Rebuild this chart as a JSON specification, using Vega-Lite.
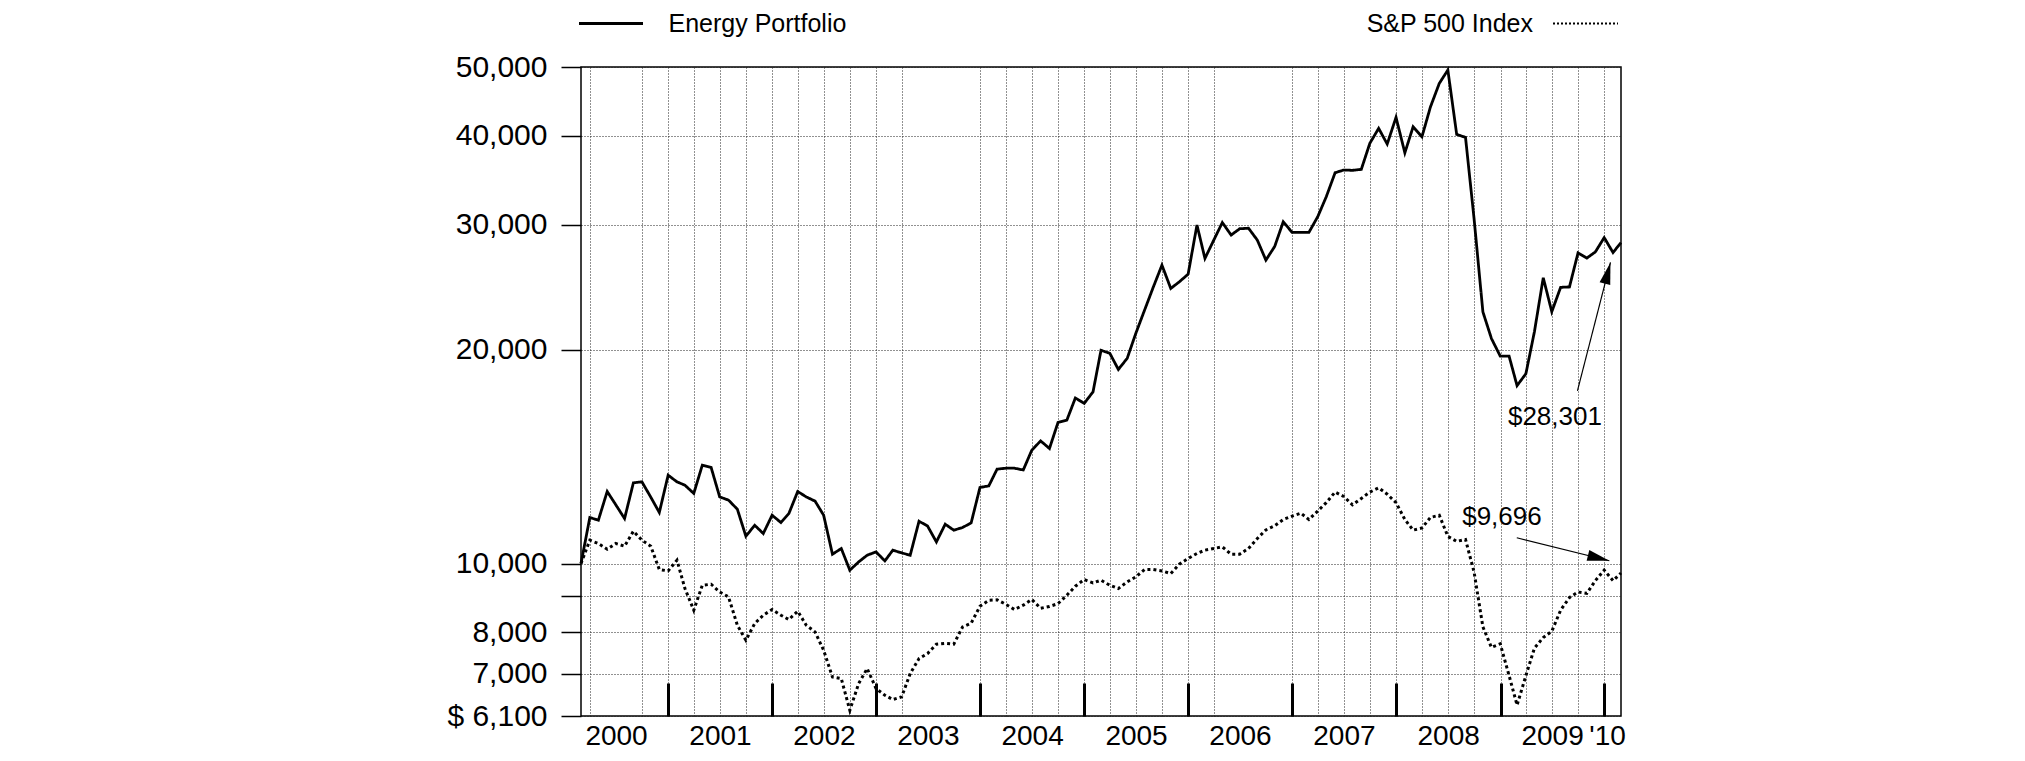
{
  "$schema": "https://vega.github.io/schema/vega-lite/v6.json",
  "autosize": "none",
  "width": 1040,
  "height": 649,
  "padding": {"left": 581, "top": 67, "right": 404, "bottom": 45},
  "background": "white",
  "config": {
    "view": {"stroke": "black", "strokeWidth": 1.5},
    "font": "Liberation Sans",
    "text": {"font": "Liberation Sans"}
  },
  "datasets": {
    "prices": [
      {"date": "2000-02-29", "energy": 10000, "sp500": 10000},
      {"date": "2000-03-31", "energy": 11608, "sp500": 10785},
      {"date": "2000-04-30", "energy": 11507, "sp500": 10670},
      {"date": "2000-05-31", "energy": 12630, "sp500": 10475},
      {"date": "2000-06-30", "energy": 12100, "sp500": 10670},
      {"date": "2000-07-31", "energy": 11570, "sp500": 10577},
      {"date": "2000-08-31", "energy": 12990, "sp500": 11104},
      {"date": "2000-09-30", "energy": 13030, "sp500": 10785},
      {"date": "2000-10-31", "energy": 12400, "sp500": 10577},
      {"date": "2000-11-30", "energy": 11800, "sp500": 9807},
      {"date": "2000-12-31", "energy": 13315, "sp500": 9763},
      {"date": "2001-01-31", "energy": 13030, "sp500": 10108},
      {"date": "2001-02-28", "energy": 12890, "sp500": 9221},
      {"date": "2001-03-31", "energy": 12550, "sp500": 8595},
      {"date": "2001-04-30", "energy": 13755, "sp500": 9320},
      {"date": "2001-05-31", "energy": 13650, "sp500": 9350},
      {"date": "2001-06-30", "energy": 12410, "sp500": 9120},
      {"date": "2001-07-31", "energy": 12280, "sp500": 8974},
      {"date": "2001-08-31", "energy": 11925, "sp500": 8187},
      {"date": "2001-09-30", "energy": 10925, "sp500": 7798},
      {"date": "2001-10-31", "energy": 11320, "sp500": 8232},
      {"date": "2001-11-30", "energy": 11020, "sp500": 8457},
      {"date": "2001-12-31", "energy": 11695, "sp500": 8614},
      {"date": "2002-01-31", "energy": 11420, "sp500": 8457},
      {"date": "2002-02-28", "energy": 11760, "sp500": 8340},
      {"date": "2002-03-31", "energy": 12630, "sp500": 8567},
      {"date": "2002-04-30", "energy": 12410, "sp500": 8187},
      {"date": "2002-05-31", "energy": 12240, "sp500": 8011},
      {"date": "2002-06-30", "energy": 11695, "sp500": 7549},
      {"date": "2002-07-31", "energy": 10306, "sp500": 6923},
      {"date": "2002-08-31", "energy": 10498, "sp500": 6887},
      {"date": "2002-09-30", "energy": 9785, "sp500": 6214},
      {"date": "2002-10-31", "energy": 10052, "sp500": 6777},
      {"date": "2002-11-30", "energy": 10273, "sp500": 7114},
      {"date": "2002-12-31", "energy": 10383, "sp500": 6668},
      {"date": "2003-01-31", "energy": 10084, "sp500": 6525},
      {"date": "2003-02-28", "energy": 10441, "sp500": 6434},
      {"date": "2003-03-31", "energy": 10350, "sp500": 6490},
      {"date": "2003-04-30", "energy": 10273, "sp500": 7000},
      {"date": "2003-05-31", "energy": 11470, "sp500": 7349},
      {"date": "2003-06-30", "energy": 11290, "sp500": 7469},
      {"date": "2003-07-31", "energy": 10726, "sp500": 7700},
      {"date": "2003-08-31", "energy": 11359, "sp500": 7720},
      {"date": "2003-09-30", "energy": 11140, "sp500": 7700},
      {"date": "2003-10-31", "energy": 11238, "sp500": 8141},
      {"date": "2003-11-30", "energy": 11407, "sp500": 8240},
      {"date": "2003-12-31", "energy": 12795, "sp500": 8707},
      {"date": "2004-01-31", "energy": 12860, "sp500": 8877},
      {"date": "2004-02-29", "energy": 13577, "sp500": 8890},
      {"date": "2004-03-31", "energy": 13620, "sp500": 8760},
      {"date": "2004-04-30", "energy": 13620, "sp500": 8614},
      {"date": "2004-05-31", "energy": 13540, "sp500": 8737},
      {"date": "2004-06-30", "energy": 14440, "sp500": 8898},
      {"date": "2004-07-31", "energy": 14880, "sp500": 8650},
      {"date": "2004-08-31", "energy": 14519, "sp500": 8700},
      {"date": "2004-09-30", "energy": 15796, "sp500": 8780},
      {"date": "2004-10-31", "energy": 15913, "sp500": 9022},
      {"date": "2004-11-30", "energy": 17102, "sp500": 9290},
      {"date": "2004-12-31", "energy": 16804, "sp500": 9494},
      {"date": "2005-01-31", "energy": 17444, "sp500": 9390},
      {"date": "2005-02-28", "energy": 19960, "sp500": 9473},
      {"date": "2005-03-31", "energy": 19764, "sp500": 9320},
      {"date": "2005-04-30", "energy": 18758, "sp500": 9221},
      {"date": "2005-05-31", "energy": 19448, "sp500": 9420},
      {"date": "2005-06-30", "energy": 21073, "sp500": 9575},
      {"date": "2005-07-31", "energy": 22736, "sp500": 9807},
      {"date": "2005-08-31", "energy": 24518, "sp500": 9807},
      {"date": "2005-09-30", "energy": 26307, "sp500": 9763},
      {"date": "2005-10-31", "energy": 24391, "sp500": 9681},
      {"date": "2005-11-30", "energy": 24919, "sp500": 9977},
      {"date": "2005-12-31", "energy": 25549, "sp500": 10163},
      {"date": "2006-01-31", "energy": 29960, "sp500": 10330},
      {"date": "2006-02-28", "energy": 26884, "sp500": 10441},
      {"date": "2006-03-31", "energy": 28526, "sp500": 10500},
      {"date": "2006-04-30", "energy": 30200, "sp500": 10553},
      {"date": "2006-05-31", "energy": 29000, "sp500": 10306},
      {"date": "2006-06-30", "energy": 29600, "sp500": 10306},
      {"date": "2006-07-31", "energy": 29650, "sp500": 10500},
      {"date": "2006-08-31", "energy": 28526, "sp500": 10845},
      {"date": "2006-09-30", "energy": 26736, "sp500": 11150},
      {"date": "2006-10-31", "energy": 27950, "sp500": 11300},
      {"date": "2006-11-30", "energy": 30280, "sp500": 11533},
      {"date": "2006-12-31", "energy": 29250, "sp500": 11660},
      {"date": "2007-01-31", "energy": 29250, "sp500": 11771},
      {"date": "2007-02-28", "energy": 29250, "sp500": 11533},
      {"date": "2007-03-31", "energy": 30770, "sp500": 11852},
      {"date": "2007-04-30", "energy": 32830, "sp500": 12180},
      {"date": "2007-05-31", "energy": 35490, "sp500": 12605},
      {"date": "2007-06-30", "energy": 35800, "sp500": 12431},
      {"date": "2007-07-31", "energy": 35770, "sp500": 12097},
      {"date": "2007-08-31", "energy": 35880, "sp500": 12347},
      {"date": "2007-09-30", "energy": 39040, "sp500": 12605},
      {"date": "2007-10-31", "energy": 40980, "sp500": 12778},
      {"date": "2007-11-30", "energy": 38950, "sp500": 12520},
      {"date": "2007-12-31", "energy": 42470, "sp500": 12180},
      {"date": "2008-01-31", "energy": 37860, "sp500": 11533},
      {"date": "2008-02-29", "energy": 41190, "sp500": 11144},
      {"date": "2008-03-31", "energy": 39880, "sp500": 11220},
      {"date": "2008-04-30", "energy": 43950, "sp500": 11613},
      {"date": "2008-05-31", "energy": 47420, "sp500": 11692},
      {"date": "2008-06-30", "energy": 49510, "sp500": 10918},
      {"date": "2008-07-31", "energy": 40190, "sp500": 10743},
      {"date": "2008-08-31", "energy": 39800, "sp500": 10810},
      {"date": "2008-09-30", "energy": 30600, "sp500": 9730},
      {"date": "2008-10-31", "energy": 22610, "sp500": 8143},
      {"date": "2008-11-30", "energy": 20740, "sp500": 7620},
      {"date": "2008-12-31", "energy": 19585, "sp500": 7707},
      {"date": "2009-01-31", "energy": 19585, "sp500": 6954},
      {"date": "2009-02-28", "energy": 17800, "sp500": 6320},
      {"date": "2009-03-31", "energy": 18500, "sp500": 6954},
      {"date": "2009-04-30", "energy": 21200, "sp500": 7600},
      {"date": "2009-05-31", "energy": 25250, "sp500": 7867},
      {"date": "2009-06-30", "energy": 22620, "sp500": 8029},
      {"date": "2009-07-31", "energy": 24480, "sp500": 8595},
      {"date": "2009-08-31", "energy": 24510, "sp500": 8956},
      {"date": "2009-09-30", "energy": 27360, "sp500": 9117},
      {"date": "2009-10-31", "energy": 26910, "sp500": 9079},
      {"date": "2009-11-30", "energy": 27460, "sp500": 9460},
      {"date": "2009-12-31", "energy": 28760, "sp500": 9788},
      {"date": "2010-01-31", "energy": 27400, "sp500": 9460},
      {"date": "2010-02-28", "energy": 28301, "sp500": 9696}
    ],
    "notes": [
      {"label": "$28,301", "text_date": "2009-07-11", "text_value": 16100, "from_date": "2009-09-28", "from_value": 17500, "to_date": "2010-01-22", "to_value": 26540},
      {"label": "$9,696", "text_date": "2009-01-06", "text_value": 11620, "from_date": "2009-02-27", "from_value": 10870, "to_date": "2010-01-18", "to_value": 10090}
    ]
  },
  "layer": [
    {
      "data": {"name": "prices"},
      "mark": {"type": "line", "color": "black", "strokeWidth": 2.8},
      "encoding": {
        "x": {
          "field": "date", "type": "temporal",
          "scale": {"domain": [{"year": 2000, "month": 2, "date": 29}, {"year": 2010, "month": 2, "date": 28}], "nice": false},
          "axis": {
            "orient": "bottom", "title": null,
            "values": [
              {"year": 2000, "month": 7, "date": 1}, {"year": 2001, "month": 7, "date": 1},
              {"year": 2002, "month": 7, "date": 1}, {"year": 2003, "month": 7, "date": 1},
              {"year": 2004, "month": 7, "date": 1}, {"year": 2005, "month": 7, "date": 1},
              {"year": 2006, "month": 7, "date": 1}, {"year": 2007, "month": 7, "date": 1},
              {"year": 2008, "month": 7, "date": 1}, {"year": 2009, "month": 7, "date": 1},
              {"year": 2010, "month": 1, "date": 10}
            ],
            "labelExpr": "year(datum.value) >= 2010 ? \"'10\" : '' + year(datum.value)",
            "ticks": false, "tickSize": 0, "domain": false, "grid": false,
            "labelFont": "Liberation Sans", "labelFontSize": 28, "labelColor": "black",
            "labelPadding": 6, "labelFlush": false, "labelOverlap": false
          }
        },
        "y": {
          "field": "energy", "type": "quantitative",
          "scale": {"type": "log", "domain": [6100, 50000], "nice": false, "zero": false},
          "axis": {
            "orient": "left", "title": null,
            "values": [6100, 7000, 8000, 9000, 10000, 20000, 30000, 40000, 50000],
            "labelExpr": "datum.value == 9000 ? '' : (datum.value == 6100 ? '$ 6,100' : format(datum.value, ','))",
            "grid": true, "gridColor": "#222222", "gridDash": [1, 2], "gridWidth": 1,
            "tickSize": 20, "tickWidth": 1.5, "tickColor": "black", "domain": false,
            "labelFont": "Liberation Sans", "labelFontSize": 30, "labelColor": "black",
            "labelPadding": 14, "labelOverlap": false, "labelFlush": false
          }
        },
        "strokeDash": {
          "datum": "Energy Portfolio", "type": "nominal",
          "scale": {"domain": ["Energy Portfolio"], "range": [[1, 0]]},
          "legend": {
            "title": null, "orient": "none", "legendX": -3.5, "legendY": -77, "padding": 0,
            "symbolType": "stroke", "symbolSize": 4096, "symbolStrokeWidth": 2.8, "symbolStrokeColor": "black",
            "labelFont": "Liberation Sans", "labelFontSize": 25, "labelColor": "black", "labelOffset": 24, "labelLimit": 500
          }
        }
      }
    },
    {
      "data": {"name": "prices"},
      "mark": {"type": "line", "strokeWidth": 3, "strokeDash": [3, 3]},
      "encoding": {
        "x": {
          "field": "date", "type": "temporal",
          "scale": {"domain": [{"year": 2000, "month": 2, "date": 29}, {"year": 2010, "month": 2, "date": 28}], "nice": false},
          "axis": {
            "orient": "bottom", "title": null,
            "values": [
              {"year": 2000, "month": 4, "date": 1}, {"year": 2000, "month": 10, "date": 1},
              {"year": 2001, "month": 1, "date": 1}, {"year": 2001, "month": 4, "date": 1}, {"year": 2001, "month": 7, "date": 1}, {"year": 2001, "month": 10, "date": 1},
              {"year": 2002, "month": 1, "date": 1}, {"year": 2002, "month": 4, "date": 1}, {"year": 2002, "month": 7, "date": 1}, {"year": 2002, "month": 10, "date": 1},
              {"year": 2003, "month": 1, "date": 1}, {"year": 2003, "month": 4, "date": 1},
              {"year": 2004, "month": 1, "date": 1}, {"year": 2004, "month": 4, "date": 1}, {"year": 2004, "month": 7, "date": 1}, {"year": 2004, "month": 10, "date": 1},
              {"year": 2005, "month": 1, "date": 1}, {"year": 2005, "month": 4, "date": 1}, {"year": 2005, "month": 7, "date": 1}, {"year": 2005, "month": 10, "date": 1},
              {"year": 2006, "month": 1, "date": 1}, {"year": 2006, "month": 4, "date": 1},
              {"year": 2007, "month": 1, "date": 1}, {"year": 2007, "month": 4, "date": 1}, {"year": 2007, "month": 7, "date": 1}, {"year": 2007, "month": 10, "date": 1},
              {"year": 2008, "month": 1, "date": 1}, {"year": 2008, "month": 4, "date": 1}, {"year": 2008, "month": 7, "date": 1}, {"year": 2008, "month": 10, "date": 1},
              {"year": 2009, "month": 1, "date": 1}, {"year": 2009, "month": 4, "date": 1}, {"year": 2009, "month": 7, "date": 1}, {"year": 2009, "month": 10, "date": 1},
              {"year": 2010, "month": 1, "date": 1}
            ],
            "grid": true, "gridColor": "#222222", "gridDash": [1, 2], "gridWidth": 1,
            "ticks": false, "labels": false, "domain": false
          }
        },
        "y": {
          "field": "sp500", "type": "quantitative",
          "scale": {"type": "log", "domain": [6100, 50000], "nice": false, "zero": false},
          "axis": null
        },
        "stroke": {
          "datum": "S&P 500 Index", "type": "nominal",
          "scale": {"domain": ["S&P 500 Index"], "range": ["black"]},
          "legend": {
            "title": null, "orient": "none", "legendX": 971, "legendY": -77, "padding": 0,
            "symbolType": "stroke", "symbolSize": 4225, "symbolStrokeWidth": 2, "symbolDash": [2, 2],
            "labelFont": "Liberation Sans", "labelFontSize": 25, "labelColor": "black",
            "labelAlign": "right", "labelOffset": -86, "labelLimit": 500
          }
        }
      }
    },
    {
      "data": {"name": "notes"},
      "mark": {"type": "rule", "color": "black", "strokeWidth": 1.2},
      "encoding": {
        "x": {
          "field": "from_date", "type": "temporal",
          "scale": {"domain": [{"year": 2000, "month": 2, "date": 29}, {"year": 2010, "month": 2, "date": 28}], "nice": false},
          "axis": {
            "orient": "bottom", "title": null,
            "values": [
              {"year": 2001, "month": 1, "date": 1}, {"year": 2002, "month": 1, "date": 1},
              {"year": 2003, "month": 1, "date": 1}, {"year": 2004, "month": 1, "date": 1},
              {"year": 2005, "month": 1, "date": 1}, {"year": 2006, "month": 1, "date": 1},
              {"year": 2007, "month": 1, "date": 1}, {"year": 2008, "month": 1, "date": 1},
              {"year": 2009, "month": 1, "date": 1}, {"year": 2010, "month": 1, "date": 1}
            ],
            "ticks": true, "tickSize": -33, "tickWidth": 3, "tickColor": "black",
            "labels": false, "domain": false, "grid": false
          }
        },
        "x2": {"field": "to_date"},
        "y": {
          "field": "from_value", "type": "quantitative",
          "scale": {"type": "log", "domain": [6100, 50000], "nice": false, "zero": false},
          "axis": null
        },
        "y2": {"field": "to_value"}
      }
    },
    {
      "data": {"name": "notes"},
      "mark": {"type": "text", "fontSize": 26, "font": "Liberation Sans", "color": "black", "align": "center", "baseline": "middle"},
      "encoding": {
        "x": {
          "field": "text_date", "type": "temporal",
          "scale": {"domain": [{"year": 2000, "month": 2, "date": 29}, {"year": 2010, "month": 2, "date": 28}], "nice": false},
          "axis": null
        },
        "y": {
          "field": "text_value", "type": "quantitative",
          "scale": {"type": "log", "domain": [6100, 50000], "nice": false, "zero": false},
          "axis": null
        },
        "text": {"field": "label"}
      }
    },
    {
      "data": {"name": "notes"},
      "transform": [{"filter": "datum.label == '$28,301'"}],
      "mark": {"type": "point", "shape": "M0,0L-2,-0.5L-2,0.5Z", "size": 484, "angle": -75.4, "filled": true, "color": "black", "opacity": 1},
      "encoding": {
        "x": {
          "field": "to_date", "type": "temporal",
          "scale": {"domain": [{"year": 2000, "month": 2, "date": 29}, {"year": 2010, "month": 2, "date": 28}], "nice": false},
          "axis": null
        },
        "y": {
          "field": "to_value", "type": "quantitative",
          "scale": {"type": "log", "domain": [6100, 50000], "nice": false, "zero": false},
          "axis": null
        }
      }
    },
    {
      "data": {"name": "notes"},
      "transform": [{"filter": "datum.label == '$9,696'"}],
      "mark": {"type": "point", "shape": "M0,0L-2,-0.5L-2,0.5Z", "size": 484, "angle": 14, "filled": true, "color": "black", "opacity": 1},
      "encoding": {
        "x": {
          "field": "to_date", "type": "temporal",
          "scale": {"domain": [{"year": 2000, "month": 2, "date": 29}, {"year": 2010, "month": 2, "date": 28}], "nice": false},
          "axis": null
        },
        "y": {
          "field": "to_value", "type": "quantitative",
          "scale": {"type": "log", "domain": [6100, 50000], "nice": false, "zero": false},
          "axis": null
        }
      }
    }
  ],
  "resolve": {"axis": {"x": "independent", "y": "independent"}}
}
